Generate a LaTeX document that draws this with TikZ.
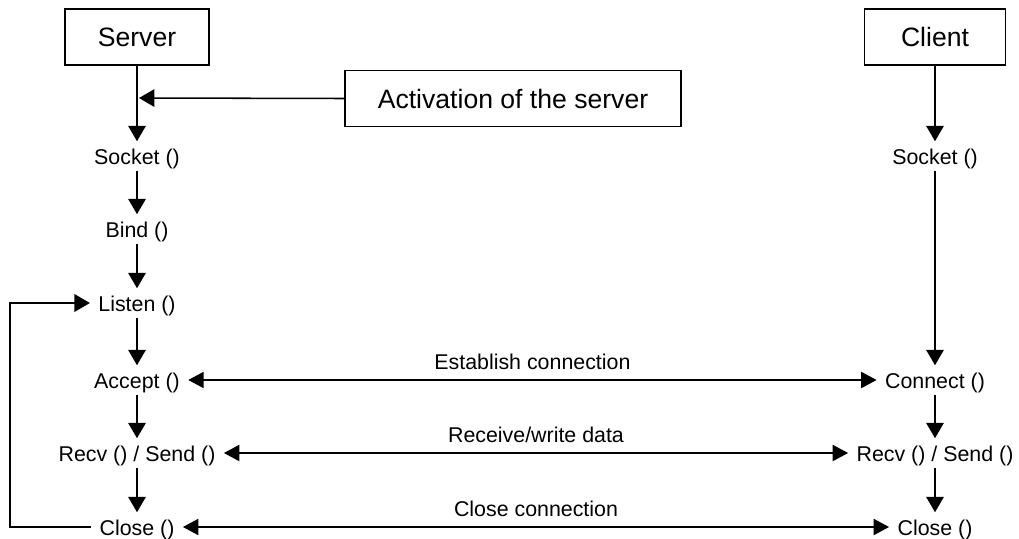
\documentclass[tikz,border=0pt]{standalone}
\usepackage{fontspec}
\setmainfont{Liberation Sans}
\usetikzlibrary{arrows.meta}

\begin{document}
\begin{tikzpicture}[x = 0.025cm,
                    y = -0.025cm,
                    line width = 1.1pt]

  \useasboundingbox (0,0) rectangle (1019,539);


  % STYLES
  \tikzstyle{boxstyle} = [draw, font=\fontsize{18.9}{22}\selectfont, inner sep=0pt, minimum height=39.8pt]
  \tikzstyle{callstyle} = [font=\fontsize{15.2}{18}\selectfont, inner xsep=5.5pt, inner ysep=0pt, text height=16pt, text depth=3.9pt]
  \tikzstyle{labelstyle} = [font=\fontsize{15.2}{18}\selectfont, inner sep=3pt, text depth=3.9pt, above]
  \tikzstyle{flowstyle} = [-{Triangle[length=11pt, width=12.5pt]}]
  \tikzstyle{bothstyle} = [{Triangle[length=11pt, width=11.5pt]}-{Triangle[length=11pt, width=11.5pt]}]


  % BOXES
  \node[boxstyle, minimum width=102.4pt] (srv_s) at (137,37) {Server};
  \node[boxstyle, minimum width=100.3pt] (cli_c) at (935,37) {Client};
  \node[boxstyle, minimum width=239pt] (act) at (513,98.5) {Activation of the server};


  % SERVER CALLS
  \node[callstyle] (sock_s) at (137,156) {Socket ()};
  \node[callstyle] (bind_s) at (137,229) {Bind ()};
  \node[callstyle] (listen_s) at (137,303) {Listen ()};
  \node[callstyle] (acc_s) at (137,380) {Accept ()};
  \node[callstyle] (recv_s) at (137,453) {Recv () / Send ()};
  \node[callstyle] (close_s) at (137,527) {Close ()};


  % CLIENT CALLS
  \node[callstyle] (sock_c) at (935,156) {Socket ()};
  \node[callstyle] (con_c) at (935,380) {Connect ()};
  \node[callstyle] (recv_c) at (935,453) {Recv () / Send ()};
  \node[callstyle] (close_c) at (935,527) {Close ()};


  % HELP POINTS
  \coordinate (act_hit) at (139,98);
  \coordinate (loop_x) at (10,415);


  % EDGES
  \draw[flowstyle] (srv_s.south) -- (sock_s.north);
  \draw[flowstyle] (act.west) -- (act_hit);
  \draw[flowstyle] (sock_s.south) -- (bind_s.north);
  \draw[flowstyle] (bind_s.south) -- (listen_s.north);
  \draw[flowstyle] (listen_s.south) -- (acc_s.north);
  \draw[flowstyle] (acc_s.south) -- (recv_s.north);
  \draw[flowstyle] (recv_s.south) -- (close_s.north);
  \draw[flowstyle] (close_s.west) -| (loop_x) |- (listen_s.west);

  \draw[flowstyle] (cli_c.south) -- (sock_c.north);
  \draw[flowstyle] (sock_c.south) -- (con_c.north);
  \draw[flowstyle] (con_c.south) -- (recv_c.north);
  \draw[flowstyle] (recv_c.south) -- (close_c.north);


  % CONNECTIONS
  \draw[bothstyle] (acc_s.east) -- node[labelstyle] (lbl_est) {Establish connection} (con_c.west);
  \draw[bothstyle] (recv_s.east) -- node[labelstyle] (lbl_data) {Receive/write data} (recv_c.west);
  \draw[bothstyle] (close_s.east) -- node[labelstyle] (lbl_close) {Close connection} (close_c.west);

\end{tikzpicture}
\end{document}
